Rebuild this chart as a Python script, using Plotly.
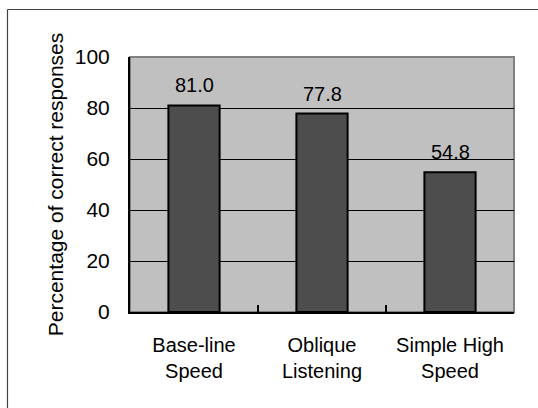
import plotly.graph_objects as go

categories = ["Base-line<br>Speed", "Oblique<br>Listening", "Simple High<br>Speed"]
values = [81.0, 77.8, 54.8]
y_ticks = [0, 20, 40, 60, 80, 100]
y_title = "Percentage of correct responses"

FONT = "Liberation Sans, Arial, sans-serif"

fig = go.Figure()
fig.add_trace(go.Bar(
    x=categories, y=values, width=0.4,
    marker=dict(color="#4d4d4d", line=dict(color="#000000", width=2)),
    hoverinfo="skip",
))

for c, v in zip(categories, values):
    fig.add_annotation(x=c, y=v, text=f"{v:.1f}", showarrow=False,
                       yanchor="bottom", yshift=7,
                       font=dict(family=FONT, size=20, color="#000"))

# plot-area frame (gray top/right)
fig.add_shape(type="rect", xref="paper", yref="paper", x0=0, x1=1, y0=0, y1=1,
              line=dict(color="#808080", width=2), layer="below")
# outer chart border (top and left edges visible in the frame)
bx = (7.5 - 130) / 384
by = 1 + (57 - 9.5) / 255
fig.add_shape(type="line", xref="paper", yref="paper",
              x0=bx, x1=(540 - 130) / 384, y0=by, y1=by,
              line=dict(color="#404040", width=1.2))
fig.add_shape(type="line", xref="paper", yref="paper",
              x0=bx, x1=bx, y0=by, y1=-(410 - 312) / 255,
              line=dict(color="#404040", width=1.2))

fig.update_layout(
    width=538, height=408,
    margin=dict(l=130, r=24, t=57, b=96),
    paper_bgcolor="white", plot_bgcolor="#c0c0c0",
    showlegend=False,
    font=dict(family=FONT, size=20, color="#000"),
)
fig.update_xaxes(
    type="category", showline=True, linecolor="#000", linewidth=2,
    ticks="inside", tickson="boundaries", ticklen=7, tickwidth=2, tickcolor="#000",
    showgrid=False, tickfont=dict(family=FONT, size=20), ticklabelstandoff=14,
)
fig.update_yaxes(
    range=[0, 100], tickvals=y_ticks, showline=True, linecolor="#000", linewidth=2,
    showgrid=True, gridcolor="#000", gridwidth=1, zeroline=False,
    ticks="", tickfont=dict(family=FONT, size=21), ticklabelstandoff=14,
    title=dict(text=y_title, font=dict(family=FONT, size=21), standoff=5),
)

fig.write_html("out.html", config={"displayModeBar": False},
               post_script="document.body.style.margin='0';")
